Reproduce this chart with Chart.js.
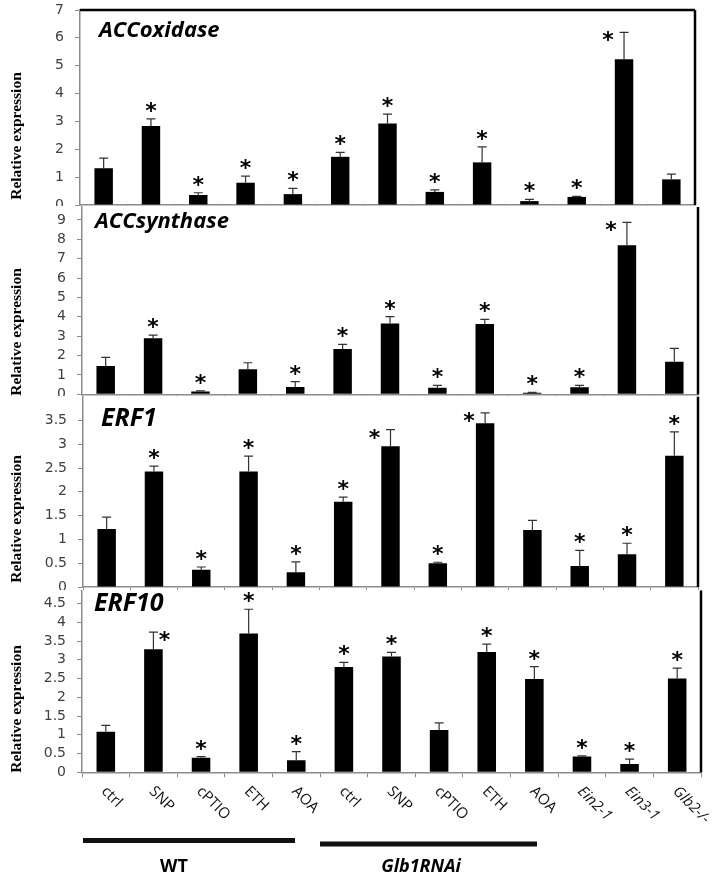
<!DOCTYPE html>
<html>
<head>
<meta charset="utf-8">
<script src="https://cdn.jsdelivr.net/npm/chart.js@4.4.1/dist/chart.umd.min.js"></script>
<style>
  html, body { margin: 0; padding: 0; background: #fff; }
  #wrap { position: relative; width: 722px; height: 877px; overflow: hidden; background: #fff; }
  #wrap canvas { position: absolute; left: 0; background: #fff; }
</style>
</head>
<body>
<div id="wrap">
  <canvas id="p1" width="722" height="206" style="top:0px"></canvas>
  <canvas id="p2" width="722" height="190" style="top:206px"></canvas>
  <canvas id="p3" width="722" height="194" style="top:396px"></canvas>
  <canvas id="p4" width="722" height="287" style="top:590px"></canvas>
</div>
<script>
// x categories (WT: first five, Glb1RNAi: next five, then mutants)
const categories = ['ctrl', 'SNP', 'cPTIO', 'ETH', 'AOA', 'ctrl', 'SNP', 'cPTIO', 'ETH', 'AOA', 'Ein2-1', 'Ein3-1', 'Glb2-/-'];
const italicLabels = ['Ein2-1', 'Ein3-1', 'Glb2-/-'];

// ACC oxidase
const accOxidase    = [1.32, 2.84, 0.36, 0.80, 0.39, 1.73, 2.93, 0.47, 1.53, 0.14, 0.29, 5.23, 0.92];
const accOxidaseErr = [0.36, 0.25, 0.08, 0.24, 0.21, 0.16, 0.33, 0.07, 0.56, 0.06, 0.02, 0.97, 0.19];
const accOxidaseSig = [0, 1, 1, 1, 1, 1, 1, 1, 1, 1, 1, 1, 0];
const accOxidaseStarSide = ['', '', '', '', '', '', '', '', '', '', '', 'l', ''];

// ACC synthase
const accSynthase    = [1.46, 2.89, 0.14, 1.29, 0.38, 2.34, 3.66, 0.34, 3.63, 0.08, 0.36, 7.69, 1.68];
const accSynthaseErr = [0.45, 0.16, 0.04, 0.34, 0.27, 0.24, 0.35, 0.12, 0.24, 0.02, 0.10, 1.19, 0.69];
const accSynthaseSig = [0, 1, 1, 0, 1, 1, 1, 1, 1, 1, 1, 1, 0];
const accSynthaseStarSide = ['', '', '', '', '', '', '', '', '', '', '', 'l', ''];

// ERF1
const erf1    = [1.22, 2.43, 0.36, 2.43, 0.31, 1.79, 2.96, 0.50, 3.44, 1.20, 0.44, 0.69, 2.76];
const erf1Err = [0.25, 0.11, 0.06, 0.32, 0.22, 0.10, 0.35, 0.02, 0.22, 0.20, 0.33, 0.23, 0.50];
const erf1Sig = [0, 1, 1, 1, 1, 1, 1, 1, 1, 0, 1, 1, 1];
const erf1StarSide = ['', '', '', '', '', '', 'l', '', 'l', '', '', '', ''];

// ERF10
const erf10    = [1.08, 3.28, 0.39, 3.70, 0.32, 2.81, 3.09, 1.13, 3.21, 2.49, 0.42, 0.22, 2.50];
const erf10Err = [0.17, 0.46, 0.03, 0.65, 0.23, 0.12, 0.11, 0.19, 0.21, 0.33, 0.02, 0.13, 0.28];
const erf10Sig = [0, 1, 1, 1, 1, 1, 1, 0, 1, 1, 1, 1, 1];
const erf10StarSide = ['', 'r', '', '', '', '', '', '', '', '', '', '', ''];

const panels = [
  { id: 'p1', top: 0, area: { l: 80, r: 695, t: 10, b: 205 }, max: 7, step: 1, showMax: 7,
    gene: 'ACCoxidase', geneFont: 'italic bold 22px "Open Sans"', geneX: 99, geneY: 31, titleY: 136, boxTop: true,
    values: accOxidase, err: accOxidaseErr, sig: accOxidaseSig, side: accOxidaseStarSide },
  { id: 'p2', top: 206, area: { l: 82, r: 698, t: 207, b: 394.3 }, max: 9.67, step: 1, showMax: 9,
    gene: 'ACCsynthase', geneFont: 'italic bold 22px "Open Sans"', geneX: 95, geneY: 222, titleY: 332, boxTop: false,
    values: accSynthase, err: accSynthaseErr, sig: accSynthaseSig, side: accSynthaseStarSide },
  { id: 'p3', top: 396, area: { l: 83, r: 698, t: 396.7, b: 587 }, max: 4, step: 0.5, showMax: 3.5,
    gene: 'ERF1', geneFont: 'italic bold 25px "Open Sans"', geneX: 101, geneY: 419, titleY: 519, boxTop: false,
    values: erf1, err: erf1Err, sig: erf1Sig, side: erf1StarSide },
  { id: 'p4', top: 590, area: { l: 82, r: 701, t: 590.5, b: 772.3 }, max: 4.85, step: 0.5, showMax: 4.5,
    gene: 'ERF10', geneFont: 'italic bold 25px "Open Sans"', geneX: 94, geneY: 604, titleY: 709, boxTop: false,
    values: erf10, err: erf10Err, sig: erf10Sig, side: erf10StarSide }
];

const axisGray = '#8c8c8c';

function decor(p, last) {
  return {
    id: 'decor',
    afterDatasetsDraw(chart) {
      const ctx = chart.ctx;
      const y = chart.scales.y;
      const bars = chart.getDatasetMeta(0).data;
      ctx.save();
      bars.forEach((bar, i) => {
        const top = y.getPixelForValue(p.values[i] + p.err[i]);
        ctx.strokeStyle = '#333';
        ctx.lineWidth = 1.2;
        ctx.beginPath();
        ctx.moveTo(bar.x, bar.y);
        ctx.lineTo(bar.x, top);
        ctx.moveTo(bar.x - 4.5, top);
        ctx.lineTo(bar.x + 4.5, top);
        ctx.stroke();
        if (p.sig[i]) {
          const side = p.side[i];
          const sx = bar.x + (side === 'l' ? -16 : side === 'r' ? 11 : 0);
          const sy = side ? top + 3 : top - 13;
          ctx.fillStyle = '#000';
          ctx.font = 'bold 22px "DejaVu Sans"';
          ctx.textAlign = 'center';
          ctx.textBaseline = 'alphabetic';
          ctx.fillText('*', sx, sy + 12);
        }
      });
      ctx.restore();
    },
    afterDraw(chart) {
      const ctx = chart.ctx;
      const a = chart.chartArea;
      ctx.save();
      // black frame on the right (and top for the first panel)
      ctx.strokeStyle = '#000';
      ctx.lineWidth = 2.5;
      ctx.beginPath();
      if (p.boxTop) {
        ctx.moveTo(a.left, a.top);
        ctx.lineTo(a.right, a.top);
      }
      ctx.moveTo(a.right, a.top);
      ctx.lineTo(a.right, a.bottom);
      ctx.stroke();

      // gene name
      ctx.fillStyle = '#000';
      ctx.font = p.geneFont;
      ctx.textAlign = 'left';
      ctx.textBaseline = 'middle';
      ctx.fillText(p.gene, p.geneX, p.geneY - p.top);

      // y title
      ctx.save();
      ctx.translate(17, p.titleY - p.top);
      ctx.rotate(-Math.PI / 2);
      ctx.font = 'bold 15.5px "Liberation Serif"';
      ctx.textAlign = 'center';
      ctx.textBaseline = 'middle';
      ctx.fillText('Relative expression', 0, 0);
      ctx.restore();

      if (last) {
        const x = chart.scales.x;
        categories.forEach((lab, i) => {
          const cx = x.getPixelForValue(i);
          ctx.save();
          ctx.translate(cx - 2, 789 - p.top);
          ctx.rotate(Math.PI / 4);
          ctx.font = (italicLabels.includes(lab) ? 'italic ' : '') + '15px "Open Sans"';
          ctx.fillStyle = '#111';
          ctx.textAlign = 'left';
          ctx.textBaseline = 'middle';
          ctx.fillText(lab, 0, 0);
          ctx.restore();
        });
        // group bars and names
        ctx.strokeStyle = '#111';
        ctx.lineCap = 'butt';
        ctx.lineWidth = 5;
        ctx.beginPath();
        ctx.moveTo(83, 840.5 - p.top);
        ctx.lineTo(295, 840.5 - p.top);
        ctx.stroke();
        ctx.beginPath();
        ctx.moveTo(320, 844 - p.top);
        ctx.lineTo(537, 844 - p.top);
        ctx.stroke();
        ctx.fillStyle = '#000';
        ctx.textAlign = 'center';
        ctx.textBaseline = 'middle';
        ctx.font = 'bold 18px "Open Sans"';
        ctx.fillText('WT', 174, 867 - p.top);
        ctx.font = 'italic bold 18px "Open Sans"';
        ctx.fillText('Glb1RNAi', 421, 867 - p.top);
      }
      ctx.restore();
    }
  };
}

panels.forEach((p, i) => {
  const cv = document.getElementById(p.id);
  const H = cv.height;
  const last = i === panels.length - 1;
  new Chart(cv, {
    type: 'bar',
    data: {
      labels: categories,
      datasets: [{
        data: p.values,
        backgroundColor: '#000',
        borderWidth: 0,
        barPercentage: 0.39,
        categoryPercentage: 1
      }]
    },
    options: {
      responsive: false,
      animation: false,
      devicePixelRatio: 1,
      layout: { padding: { left: 0, top: p.area.t - p.top, right: 722 - p.area.r, bottom: 0 } },
      plugins: { legend: { display: false }, tooltip: { enabled: false } },
      scales: {
        x: {
          ticks: { display: false },
          grid: { drawOnChartArea: false, tickLength: 5, color: axisGray },
          border: { color: axisGray, width: 1.5 },
          afterFit: s => { s.height = p.top + H - p.area.b; s.paddingLeft = 0; s.paddingRight = 0; }
        },
        y: {
          min: 0,
          max: p.max,
          ticks: {
            stepSize: p.step,
            includeBounds: false,
            autoSkip: false,
            color: '#404040',
            padding: 11,
            font: { family: '"DejaVu Sans"', size: 14, lineHeight: 1 },
            callback: v => String(Math.round(v * 100) / 100)
          },
          grid: { drawOnChartArea: false, tickLength: 5, color: axisGray },
          border: { color: axisGray, width: 1.5 },
          afterBuildTicks: s => { s.ticks = s.ticks.filter(t => t.value <= p.showMax + 1e-6); },
          afterFit: s => { s.width = p.area.l; s.paddingTop = 0; s.paddingBottom = 0; }
        }
      }
    },
    plugins: [decor(p, last)]
  });
});
</script>
</body>
</html>
